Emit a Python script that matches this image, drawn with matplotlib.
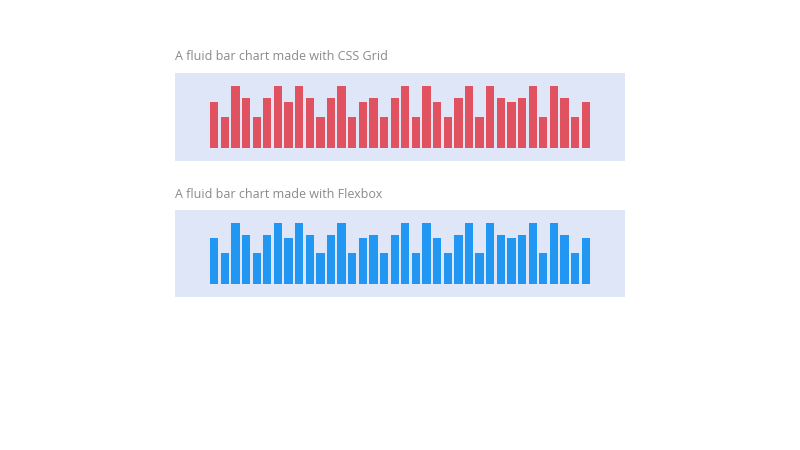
import numpy as np
import matplotlib
matplotlib.use("Agg")
import matplotlib.pyplot as plt

# bar values (percent of max); both charts share them
values = [75, 50, 100, 80, 50, 80, 100, 75, 100, 80, 50, 80,
          100, 50, 75, 80, 50, 80, 100, 50, 100, 75, 50, 80,
          100, 50, 100, 80, 75, 80, 100, 50, 100, 80, 50, 75]
titles = ["A fluid bar chart made with CSS Grid",
          "A fluid bar chart made with Flexbox"]
colors = ["#e0525f", "#2196f3"]

W, H = 800, 450
fig = plt.figure(figsize=(8, 4.5), dpi=100)
panels = [(175, 73, 450, 88), (175, 210, 450, 87)]
x = np.arange(len(values))

for (px, py, pw, ph), title, color in zip(panels, titles, colors):
    ax = fig.add_axes([px / W, 1 - (py + ph) / H, pw / W, ph / H])
    ax.set_facecolor("#dfe6f8")
    ax.bar(x, values, width=0.78, color=color)
    ax.set_xlim(-3.7, len(values) - 1 + 3.7)
    ax.set_ylim(-21, 121)
    ax.set_xticks([])
    ax.set_yticks([])
    for s in ax.spines.values():
        s.set_visible(False)
    fig.text(px / W, 1 - (py - 16) / H, title, fontsize=9,
             family="Open Sans", color="#8a8a8a", va="center")

fig.savefig("out.png", dpi=100)
